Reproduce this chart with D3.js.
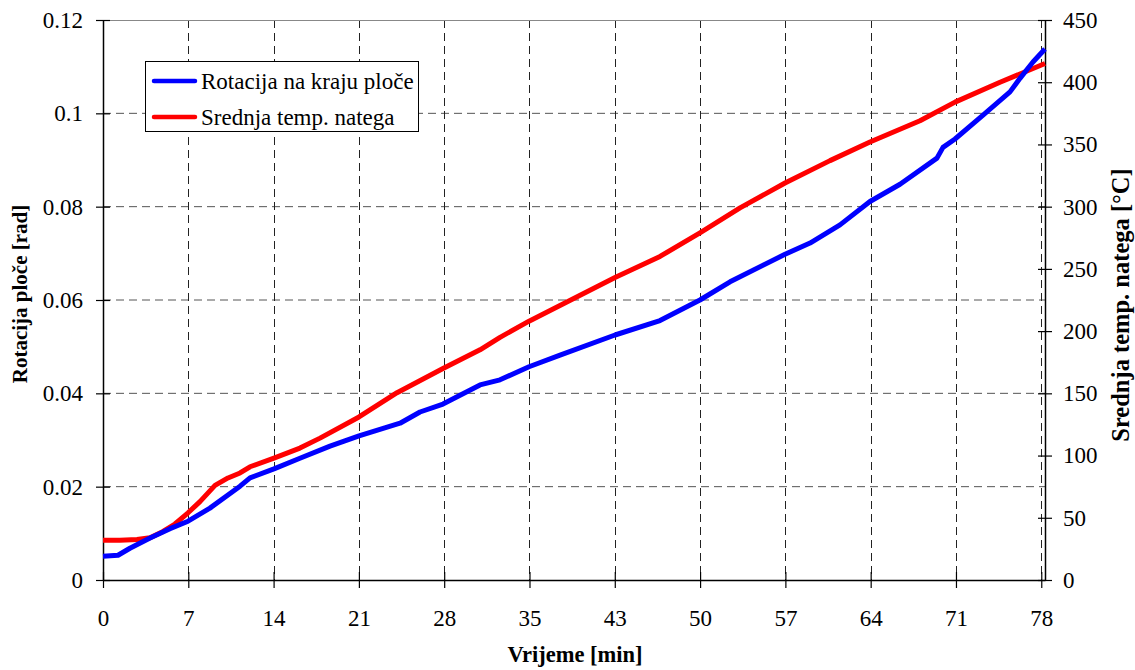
<!DOCTYPE html>
<html><head><meta charset="utf-8">
<script src="https://cdn.jsdelivr.net/npm/d3@7"></script>
<style>body{margin:0;background:#fff;} svg text{font-family:"Times New Roman","Liberation Serif","DejaVu Serif",serif !important;}</style>
</head><body><svg id="c" width="1135" height="670"></svg>
<script>
// time (min) of each labelled category tick and its label
const xTickMinutes = [0, 7.09, 14.18, 21.27, 28.36, 35.45, 42.54, 49.63, 56.72, 63.81, 70.9, 77.99];
const xTickLabels = ["0","7","14","21","28","35","43","50","57","64","71","78"];
const xDomainEnd = 78.3;
const leftTicks = [0, 0.02, 0.04, 0.06, 0.08, 0.1, 0.12];
const leftTickLabels = ["0","0.02","0.04","0.06","0.08","0.1","0.12"];
const rightTicks = [0, 50, 100, 150, 200, 250, 300, 350, 400, 450];

// Rotacija na kraju ploče [rad] : [min, rad]
const rotationData = [
[0,0.0051],[1.25,0.0053],[2.24,0.0068],[3.91,0.009],[5.57,0.011],[7.07,0.0126],[8.89,0.0154],
[11.39,0.0201],[12.22,0.0219],[14.21,0.0238],[16.37,0.0261],[18.87,0.0287],[21.28,0.0309],
[24.69,0.0336],[26.35,0.036],[28.26,0.0377],[31.34,0.0418],[33.0,0.0429],[35.41,0.0457],
[37.99,0.0482],[42.56,0.0525],[46.30,0.0556],[49.62,0.060],[52.12,0.0639],[56.69,0.0698],
[58.77,0.0722],[61.26,0.0761],[63.75,0.0811],[66.25,0.0848],[69.32,0.0904],[69.82,0.0927],
[70.82,0.0945],[73.15,0.0996],[75.39,0.1046],[76.22,0.1075],[77.30,0.111],[78.30,0.1138]
];
// Srednja temp. natega [°C] : [min, °C]
const tempData = [
[0,32],[1.41,32],[2.83,32.5],[3.91,34],[4.99,39],[5.98,45],[7.07,54],[8.06,63],[9.31,76],
[10.39,82],[11.39,86],[12.22,91],[14.21,98],[16.37,106],[18.04,114],[21.28,131],[24.44,150.5],
[28.26,170],[31.34,185],[33.0,195],[35.41,208],[42.56,243],[46.30,260],[49.62,279],[52.95,299],
[56.69,319],[60.43,337],[63.75,352],[67.91,369],[70.82,384],[74.56,400],[78.30,415]
];

const seriesNames = ["Rotacija na kraju ploče", "Srednja temp. natega"];
const colors = ["#0000ff", "#ff0000"];

const L = 103, R = 1045, T = 20, B = 580;
const svg = d3.select("#c");
const x = d3.scaleLinear().domain([0, xDomainEnd]).range([L, R]);
const yL = d3.scaleLinear().domain([0, 0.12]).range([B, T]);
const yR = d3.scaleLinear().domain([0, 450]).range([B, T]);

// gridlines
const g = svg.append("g");
g.selectAll("line.hg").data(leftTicks.filter(d => d > 0 && d < 0.12)).enter().append("line")
  .attr("x1", L).attr("x2", R).attr("y1", d => yL(d)).attr("y2", d => yL(d))
  .attr("stroke", "#555").attr("stroke-width", 1).attr("stroke-dasharray", "8,5");
g.selectAll("line.vg").data(xTickMinutes.slice(1)).enter().append("line")
  .attr("x1", d => Math.round(x(d)) + 0.5).attr("x2", d => Math.round(x(d)) + 0.5)
  .attr("y1", T).attr("y2", B)
  .attr("stroke", "#222").attr("stroke-width", 1).attr("stroke-dasharray", "8,5");
// top border
svg.append("line").attr("x1", L).attr("x2", R).attr("y1", T + 0.5).attr("y2", T + 0.5)
  .attr("stroke", "#888").attr("stroke-width", 1.2);

// axes
const fs = "23px";
const axL = svg.append("g").attr("transform", `translate(${L},0)`)
  .call(d3.axisLeft(yL).tickValues(leftTicks).tickFormat((d, i) => leftTickLabels[i]).tickSizeInner(7).tickSizeOuter(0).tickPadding(13));
const axR = svg.append("g").attr("transform", `translate(${R},0)`)
  .call(d3.axisRight(yR).tickValues(rightTicks).tickSizeInner(7).tickSizeOuter(0).tickPadding(11));
const axB = svg.append("g").attr("transform", `translate(0,${B})`)
  .call(d3.axisBottom(x).tickValues(xTickMinutes).tickFormat((d, i) => xTickLabels[i]).tickSizeInner(8).tickSizeOuter(0).tickPadding(22));
[axL, axR, axB].forEach(a => {
  a.attr("font-family", null);
  a.select(".domain").attr("stroke", "#000").attr("stroke-width", 1.5);
  a.selectAll(".tick line").attr("stroke", "#000").attr("stroke-width", 1.2);
  a.selectAll("text").attr("font-size", fs).attr("fill", "#000");
});
// make ticks cross the axis
axL.selectAll(".tick line").attr("x1", 7);
axR.selectAll(".tick line").attr("x1", -7);
axB.selectAll(".tick line").attr("y1", -8);

// lines
const lineL = d3.line().x(d => x(d[0])).y(d => yL(d[1]));
const lineR = d3.line().x(d => x(d[0])).y(d => yR(d[1]));
svg.append("path").datum(tempData).attr("d", lineR).attr("fill", "none")
  .attr("stroke", colors[1]).attr("stroke-width", 5).attr("stroke-linejoin", "round");
svg.append("path").datum(rotationData).attr("d", lineL).attr("fill", "none")
  .attr("stroke", colors[0]).attr("stroke-width", 5).attr("stroke-linejoin", "round");

// axis titles
svg.append("text").attr("transform", "translate(27,294) rotate(-90)").attr("text-anchor", "middle")
  .attr("font-weight", "bold").attr("font-size", "21px").text("Rotacija ploče [rad]");
svg.append("text").attr("transform", "translate(1129,305) rotate(-90)").attr("text-anchor", "middle")
  .attr("font-weight", "bold").attr("font-size", "24.5px").text("Srednja temp. natega [°C]");
svg.append("text").attr("x", 575).attr("y", 662).attr("text-anchor", "middle")
  .attr("font-weight", "bold").attr("font-size", "22.5px").text("Vrijeme [min]");

// legend
const lg = svg.append("g");
lg.append("rect").attr("x", 145.5).attr("y", 61.5).attr("width", 273).attr("height", 70)
  .attr("fill", "#fff").attr("stroke", "#000").attr("stroke-width", 1);
seriesNames.forEach((n, i) => {
  const yy = 81 + i * 36;
  lg.append("line").attr("x1", 154).attr("x2", 195).attr("y1", yy).attr("y2", yy)
    .attr("stroke", colors[i]).attr("stroke-width", 4.5).attr("stroke-linecap", "round");
  lg.append("text").attr("x", 201).attr("y", yy + 8).attr("font-size", "23px").text(n);
});
</script></body></html>
